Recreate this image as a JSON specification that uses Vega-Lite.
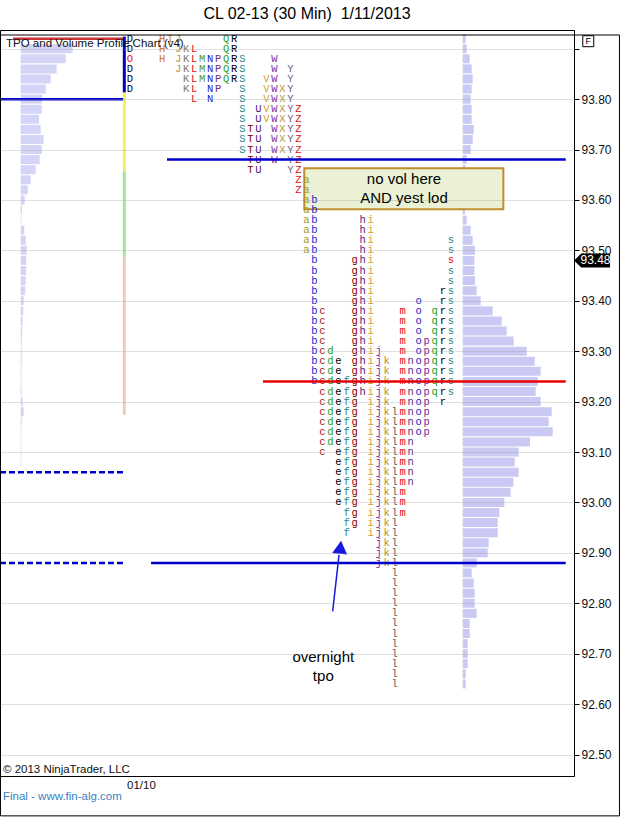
{
  "$schema": "https://vega.github.io/schema/vega-lite/v6.json",
  "width": 574,
  "height": 746,
  "autosize": "none",
  "padding": {"left": 0, "top": 30, "right": 46, "bottom": 46},
  "background": "#ffffff",
  "title": {"text": "CL 02-13 (30 Min)\u00a0 1/11/2013", "font": "Liberation Sans", "fontSize": 16, "fontWeight": "normal", "color": "#000000", "anchor": "middle", "frame": "group", "offset": 8, "dx": 20},
  "config": {"view": {"stroke": "#000000", "strokeWidth": 1}, "font": "Liberation Sans"},
  "resolve": {"scale": {"x": "independent", "color": "independent"}},
  "encoding": {
    "y": {"field": "p", "type": "quantitative", "scale": {"domain": [92.4673, 93.9272], "nice": false, "zero": false},
      "axis": {"orient": "right", "title": null, "values": [92.5, 92.6, 92.7, 92.8, 92.9, 93, 93.1, 93.2, 93.3, 93.4, 93.5, 93.6, 93.7, 93.8, 93.9],
        "format": ".2f", "labelExpr": "datum.value > 93.85 ? '' : datum.label", "domainColor": "#000000", "domainWidth": 1,
        "tickColor": "#000000", "tickSize": 5, "labelFont": "Liberation Sans", "labelFontSize": 12, "labelColor": "#111111",
        "labelPadding": 2, "grid": true, "gridColor": "#999999", "gridOpacity": 0.3, "gridWidth": 1, "zindex": 1}}
  },
  "datasets": {
    "periods": [
      {"t": "D", "u": 0}, {"t": "H", "u": 4}, {"t": "I", "u": 5}, {"t": "J", "u": 6}, {"t": "K", "u": 7},
      {"t": "L", "u": 8}, {"t": "M", "u": 9}, {"t": "N", "u": 10}, {"t": "P", "u": 11}, {"t": "Q", "u": 12},
      {"t": "R", "u": 13}, {"t": "S", "u": 14}, {"t": "T", "u": 15}, {"t": "U", "u": 16}, {"t": "V", "u": 17},
      {"t": "W", "u": 18}, {"t": "X", "u": 19}, {"t": "Y", "u": 20}, {"t": "Z", "u": 21}, {"t": "a", "u": 22},
      {"t": "b", "u": 23}, {"t": "c", "u": 24}, {"t": "d", "u": 25}, {"t": "e", "u": 26}, {"t": "f", "u": 27},
      {"t": "g", "u": 28}, {"t": "h", "u": 29}, {"t": "i", "u": 30}, {"t": "j", "u": 31}, {"t": "k", "u": 32},
      {"t": "l", "u": 33}, {"t": "m", "u": 34}, {"t": "n", "u": 35}, {"t": "o", "u": 36}, {"t": "p", "u": 37},
      {"t": "q", "u": 38}, {"t": "r", "u": 39}, {"t": "s", "u": 40}
    ],
    "tpo": [
      {"p": 93.92, "t": "D"}, {"p": 93.92, "t": "H"}, {"p": 93.92, "t": "I"}, {"p": 93.92, "t": "J"}, {"p": 93.92, "t": "Q"}, {"p": 93.92, "t": "R"},
      {"p": 93.90, "t": "D"}, {"p": 93.90, "t": "H"}, {"p": 93.90, "t": "J"}, {"p": 93.90, "t": "K"}, {"p": 93.90, "t": "L"}, {"p": 93.90, "t": "Q"}, {"p": 93.90, "t": "R"},
      {"p": 93.88, "t": "H"}, {"p": 93.88, "t": "J"}, {"p": 93.88, "t": "K"}, {"p": 93.88, "t": "L"}, {"p": 93.88, "t": "M"}, {"p": 93.88, "t": "N"}, {"p": 93.88, "t": "P"}, {"p": 93.88, "t": "Q"}, {"p": 93.88, "t": "R"}, {"p": 93.88, "t": "S"}, {"p": 93.88, "t": "W"},
      {"p": 93.86, "t": "D"}, {"p": 93.86, "t": "J"}, {"p": 93.86, "t": "K"}, {"p": 93.86, "t": "L"}, {"p": 93.86, "t": "M"}, {"p": 93.86, "t": "N"}, {"p": 93.86, "t": "P"}, {"p": 93.86, "t": "Q"}, {"p": 93.86, "t": "R"}, {"p": 93.86, "t": "S"}, {"p": 93.86, "t": "W"}, {"p": 93.86, "t": "Y"},
      {"p": 93.84, "t": "D"}, {"p": 93.84, "t": "K"}, {"p": 93.84, "t": "L"}, {"p": 93.84, "t": "M"}, {"p": 93.84, "t": "N"}, {"p": 93.84, "t": "P"}, {"p": 93.84, "t": "Q"}, {"p": 93.84, "t": "R"}, {"p": 93.84, "t": "S"}, {"p": 93.84, "t": "V"}, {"p": 93.84, "t": "W"}, {"p": 93.84, "t": "Y"},
      {"p": 93.82, "t": "D"}, {"p": 93.82, "t": "K"}, {"p": 93.82, "t": "L"}, {"p": 93.82, "t": "N"}, {"p": 93.82, "t": "P"}, {"p": 93.82, "t": "S"}, {"p": 93.82, "t": "V"}, {"p": 93.82, "t": "W"}, {"p": 93.82, "t": "X"}, {"p": 93.82, "t": "Y"},
      {"p": 93.80, "t": "L"}, {"p": 93.80, "t": "N"}, {"p": 93.80, "t": "S"}, {"p": 93.80, "t": "V"}, {"p": 93.80, "t": "W"}, {"p": 93.80, "t": "X"}, {"p": 93.80, "t": "Y"},
      {"p": 93.78, "t": "S"}, {"p": 93.78, "t": "U"}, {"p": 93.78, "t": "V"}, {"p": 93.78, "t": "W"}, {"p": 93.78, "t": "X"}, {"p": 93.78, "t": "Y"}, {"p": 93.78, "t": "Z"},
      {"p": 93.76, "t": "S"}, {"p": 93.76, "t": "U"}, {"p": 93.76, "t": "V"}, {"p": 93.76, "t": "W"}, {"p": 93.76, "t": "X"}, {"p": 93.76, "t": "Y"}, {"p": 93.76, "t": "Z"},
      {"p": 93.74, "t": "S"}, {"p": 93.74, "t": "T"}, {"p": 93.74, "t": "U"}, {"p": 93.74, "t": "W"}, {"p": 93.74, "t": "X"}, {"p": 93.74, "t": "Y"}, {"p": 93.74, "t": "Z"},
      {"p": 93.72, "t": "S"}, {"p": 93.72, "t": "T"}, {"p": 93.72, "t": "U"}, {"p": 93.72, "t": "W"}, {"p": 93.72, "t": "X"}, {"p": 93.72, "t": "Y"}, {"p": 93.72, "t": "Z"},
      {"p": 93.70, "t": "S"}, {"p": 93.70, "t": "T"}, {"p": 93.70, "t": "U"}, {"p": 93.70, "t": "W"}, {"p": 93.70, "t": "X"}, {"p": 93.70, "t": "Y"}, {"p": 93.70, "t": "Z"},
      {"p": 93.68, "t": "T"}, {"p": 93.68, "t": "U"}, {"p": 93.68, "t": "W"}, {"p": 93.68, "t": "Y"}, {"p": 93.68, "t": "Z"},
      {"p": 93.66, "t": "T"}, {"p": 93.66, "t": "U"}, {"p": 93.66, "t": "Y"}, {"p": 93.66, "t": "Z"},
      {"p": 93.64, "t": "Z"}, {"p": 93.64, "t": "a"},
      {"p": 93.62, "t": "Z"}, {"p": 93.62, "t": "a"},
      {"p": 93.60, "t": "a"}, {"p": 93.60, "t": "b"},
      {"p": 93.58, "t": "a"}, {"p": 93.58, "t": "b"},
      {"p": 93.56, "t": "a"}, {"p": 93.56, "t": "b"}, {"p": 93.56, "t": "h"}, {"p": 93.56, "t": "i"},
      {"p": 93.54, "t": "a"}, {"p": 93.54, "t": "b"}, {"p": 93.54, "t": "h"}, {"p": 93.54, "t": "i"},
      {"p": 93.52, "t": "a"}, {"p": 93.52, "t": "b"}, {"p": 93.52, "t": "h"}, {"p": 93.52, "t": "i"}, {"p": 93.52, "t": "s"},
      {"p": 93.50, "t": "a"}, {"p": 93.50, "t": "b"}, {"p": 93.50, "t": "h"}, {"p": 93.50, "t": "i"}, {"p": 93.50, "t": "s"},
      {"p": 93.48, "t": "b"}, {"p": 93.48, "t": "g"}, {"p": 93.48, "t": "h"}, {"p": 93.48, "t": "i"},
      {"p": 93.46, "t": "b"}, {"p": 93.46, "t": "g"}, {"p": 93.46, "t": "h"}, {"p": 93.46, "t": "i"}, {"p": 93.46, "t": "s"},
      {"p": 93.44, "t": "b"}, {"p": 93.44, "t": "g"}, {"p": 93.44, "t": "h"}, {"p": 93.44, "t": "i"}, {"p": 93.44, "t": "s"},
      {"p": 93.42, "t": "b"}, {"p": 93.42, "t": "g"}, {"p": 93.42, "t": "h"}, {"p": 93.42, "t": "i"}, {"p": 93.42, "t": "r"}, {"p": 93.42, "t": "s"},
      {"p": 93.40, "t": "b"}, {"p": 93.40, "t": "g"}, {"p": 93.40, "t": "h"}, {"p": 93.40, "t": "i"}, {"p": 93.40, "t": "o"}, {"p": 93.40, "t": "r"}, {"p": 93.40, "t": "s"},
      {"p": 93.38, "t": "b"}, {"p": 93.38, "t": "c"}, {"p": 93.38, "t": "g"}, {"p": 93.38, "t": "h"}, {"p": 93.38, "t": "i"}, {"p": 93.38, "t": "m"}, {"p": 93.38, "t": "o"}, {"p": 93.38, "t": "q"}, {"p": 93.38, "t": "r"}, {"p": 93.38, "t": "s"},
      {"p": 93.36, "t": "b"}, {"p": 93.36, "t": "c"}, {"p": 93.36, "t": "g"}, {"p": 93.36, "t": "h"}, {"p": 93.36, "t": "i"}, {"p": 93.36, "t": "m"}, {"p": 93.36, "t": "o"}, {"p": 93.36, "t": "q"}, {"p": 93.36, "t": "r"}, {"p": 93.36, "t": "s"},
      {"p": 93.34, "t": "b"}, {"p": 93.34, "t": "c"}, {"p": 93.34, "t": "g"}, {"p": 93.34, "t": "h"}, {"p": 93.34, "t": "i"}, {"p": 93.34, "t": "m"}, {"p": 93.34, "t": "o"}, {"p": 93.34, "t": "q"}, {"p": 93.34, "t": "r"}, {"p": 93.34, "t": "s"},
      {"p": 93.32, "t": "b"}, {"p": 93.32, "t": "c"}, {"p": 93.32, "t": "g"}, {"p": 93.32, "t": "h"}, {"p": 93.32, "t": "i"}, {"p": 93.32, "t": "m"}, {"p": 93.32, "t": "o"}, {"p": 93.32, "t": "p"}, {"p": 93.32, "t": "q"}, {"p": 93.32, "t": "r"}, {"p": 93.32, "t": "s"},
      {"p": 93.30, "t": "b"}, {"p": 93.30, "t": "c"}, {"p": 93.30, "t": "d"}, {"p": 93.30, "t": "g"}, {"p": 93.30, "t": "h"}, {"p": 93.30, "t": "i"}, {"p": 93.30, "t": "j"}, {"p": 93.30, "t": "m"}, {"p": 93.30, "t": "o"}, {"p": 93.30, "t": "p"}, {"p": 93.30, "t": "q"}, {"p": 93.30, "t": "r"}, {"p": 93.30, "t": "s"},
      {"p": 93.28, "t": "b"}, {"p": 93.28, "t": "c"}, {"p": 93.28, "t": "d"}, {"p": 93.28, "t": "e"}, {"p": 93.28, "t": "g"}, {"p": 93.28, "t": "h"}, {"p": 93.28, "t": "i"}, {"p": 93.28, "t": "j"}, {"p": 93.28, "t": "k"}, {"p": 93.28, "t": "m"}, {"p": 93.28, "t": "n"}, {"p": 93.28, "t": "o"}, {"p": 93.28, "t": "p"}, {"p": 93.28, "t": "q"}, {"p": 93.28, "t": "r"}, {"p": 93.28, "t": "s"},
      {"p": 93.26, "t": "b"}, {"p": 93.26, "t": "c"}, {"p": 93.26, "t": "d"}, {"p": 93.26, "t": "e"}, {"p": 93.26, "t": "g"}, {"p": 93.26, "t": "h"}, {"p": 93.26, "t": "i"}, {"p": 93.26, "t": "j"}, {"p": 93.26, "t": "k"}, {"p": 93.26, "t": "m"}, {"p": 93.26, "t": "n"}, {"p": 93.26, "t": "o"}, {"p": 93.26, "t": "p"}, {"p": 93.26, "t": "q"}, {"p": 93.26, "t": "r"}, {"p": 93.26, "t": "s"},
      {"p": 93.24, "t": "b"}, {"p": 93.24, "t": "c"}, {"p": 93.24, "t": "d"}, {"p": 93.24, "t": "e"}, {"p": 93.24, "t": "f"}, {"p": 93.24, "t": "g"}, {"p": 93.24, "t": "h"}, {"p": 93.24, "t": "i"}, {"p": 93.24, "t": "j"}, {"p": 93.24, "t": "k"}, {"p": 93.24, "t": "m"}, {"p": 93.24, "t": "n"}, {"p": 93.24, "t": "o"}, {"p": 93.24, "t": "p"}, {"p": 93.24, "t": "q"}, {"p": 93.24, "t": "r"}, {"p": 93.24, "t": "s"},
      {"p": 93.22, "t": "c"}, {"p": 93.22, "t": "d"}, {"p": 93.22, "t": "e"}, {"p": 93.22, "t": "f"}, {"p": 93.22, "t": "g"}, {"p": 93.22, "t": "h"}, {"p": 93.22, "t": "i"}, {"p": 93.22, "t": "j"}, {"p": 93.22, "t": "k"}, {"p": 93.22, "t": "m"}, {"p": 93.22, "t": "n"}, {"p": 93.22, "t": "o"}, {"p": 93.22, "t": "p"}, {"p": 93.22, "t": "q"}, {"p": 93.22, "t": "r"}, {"p": 93.22, "t": "s"},
      {"p": 93.20, "t": "c"}, {"p": 93.20, "t": "d"}, {"p": 93.20, "t": "e"}, {"p": 93.20, "t": "f"}, {"p": 93.20, "t": "g"}, {"p": 93.20, "t": "i"}, {"p": 93.20, "t": "j"}, {"p": 93.20, "t": "k"}, {"p": 93.20, "t": "m"}, {"p": 93.20, "t": "n"}, {"p": 93.20, "t": "o"}, {"p": 93.20, "t": "p"}, {"p": 93.20, "t": "r"},
      {"p": 93.18, "t": "c"}, {"p": 93.18, "t": "d"}, {"p": 93.18, "t": "e"}, {"p": 93.18, "t": "f"}, {"p": 93.18, "t": "g"}, {"p": 93.18, "t": "i"}, {"p": 93.18, "t": "j"}, {"p": 93.18, "t": "k"}, {"p": 93.18, "t": "l"}, {"p": 93.18, "t": "m"}, {"p": 93.18, "t": "n"}, {"p": 93.18, "t": "o"}, {"p": 93.18, "t": "p"},
      {"p": 93.16, "t": "c"}, {"p": 93.16, "t": "d"}, {"p": 93.16, "t": "e"}, {"p": 93.16, "t": "f"}, {"p": 93.16, "t": "g"}, {"p": 93.16, "t": "i"}, {"p": 93.16, "t": "j"}, {"p": 93.16, "t": "k"}, {"p": 93.16, "t": "l"}, {"p": 93.16, "t": "m"}, {"p": 93.16, "t": "n"}, {"p": 93.16, "t": "o"}, {"p": 93.16, "t": "p"},
      {"p": 93.14, "t": "c"}, {"p": 93.14, "t": "d"}, {"p": 93.14, "t": "e"}, {"p": 93.14, "t": "f"}, {"p": 93.14, "t": "g"}, {"p": 93.14, "t": "i"}, {"p": 93.14, "t": "j"}, {"p": 93.14, "t": "k"}, {"p": 93.14, "t": "l"}, {"p": 93.14, "t": "m"}, {"p": 93.14, "t": "n"}, {"p": 93.14, "t": "o"}, {"p": 93.14, "t": "p"},
      {"p": 93.12, "t": "c"}, {"p": 93.12, "t": "d"}, {"p": 93.12, "t": "e"}, {"p": 93.12, "t": "f"}, {"p": 93.12, "t": "g"}, {"p": 93.12, "t": "i"}, {"p": 93.12, "t": "j"}, {"p": 93.12, "t": "k"}, {"p": 93.12, "t": "l"}, {"p": 93.12, "t": "m"}, {"p": 93.12, "t": "n"},
      {"p": 93.10, "t": "c"}, {"p": 93.10, "t": "e"}, {"p": 93.10, "t": "f"}, {"p": 93.10, "t": "g"}, {"p": 93.10, "t": "i"}, {"p": 93.10, "t": "j"}, {"p": 93.10, "t": "k"}, {"p": 93.10, "t": "l"}, {"p": 93.10, "t": "m"}, {"p": 93.10, "t": "n"},
      {"p": 93.08, "t": "e"}, {"p": 93.08, "t": "f"}, {"p": 93.08, "t": "g"}, {"p": 93.08, "t": "i"}, {"p": 93.08, "t": "j"}, {"p": 93.08, "t": "k"}, {"p": 93.08, "t": "l"}, {"p": 93.08, "t": "m"}, {"p": 93.08, "t": "n"},
      {"p": 93.06, "t": "e"}, {"p": 93.06, "t": "f"}, {"p": 93.06, "t": "g"}, {"p": 93.06, "t": "i"}, {"p": 93.06, "t": "j"}, {"p": 93.06, "t": "k"}, {"p": 93.06, "t": "l"}, {"p": 93.06, "t": "m"}, {"p": 93.06, "t": "n"},
      {"p": 93.04, "t": "e"}, {"p": 93.04, "t": "f"}, {"p": 93.04, "t": "g"}, {"p": 93.04, "t": "i"}, {"p": 93.04, "t": "j"}, {"p": 93.04, "t": "k"}, {"p": 93.04, "t": "l"}, {"p": 93.04, "t": "m"}, {"p": 93.04, "t": "n"},
      {"p": 93.02, "t": "e"}, {"p": 93.02, "t": "f"}, {"p": 93.02, "t": "g"}, {"p": 93.02, "t": "i"}, {"p": 93.02, "t": "j"}, {"p": 93.02, "t": "k"}, {"p": 93.02, "t": "l"}, {"p": 93.02, "t": "m"},
      {"p": 93.00, "t": "e"}, {"p": 93.00, "t": "f"}, {"p": 93.00, "t": "g"}, {"p": 93.00, "t": "i"}, {"p": 93.00, "t": "j"}, {"p": 93.00, "t": "k"}, {"p": 93.00, "t": "l"}, {"p": 93.00, "t": "m"},
      {"p": 92.98, "t": "f"}, {"p": 92.98, "t": "g"}, {"p": 92.98, "t": "i"}, {"p": 92.98, "t": "j"}, {"p": 92.98, "t": "k"}, {"p": 92.98, "t": "l"}, {"p": 92.98, "t": "m"},
      {"p": 92.96, "t": "f"}, {"p": 92.96, "t": "g"}, {"p": 92.96, "t": "i"}, {"p": 92.96, "t": "j"}, {"p": 92.96, "t": "k"}, {"p": 92.96, "t": "l"},
      {"p": 92.94, "t": "f"}, {"p": 92.94, "t": "i"}, {"p": 92.94, "t": "j"}, {"p": 92.94, "t": "k"}, {"p": 92.94, "t": "l"},
      {"p": 92.92, "t": "j"}, {"p": 92.92, "t": "k"}, {"p": 92.92, "t": "l"},
      {"p": 92.90, "t": "j"}, {"p": 92.90, "t": "k"}, {"p": 92.90, "t": "l"},
      {"p": 92.88, "t": "j"}, {"p": 92.88, "t": "k"}, {"p": 92.88, "t": "l"},
      {"p": 92.86, "t": "l"}, {"p": 92.84, "t": "l"}, {"p": 92.82, "t": "l"}, {"p": 92.80, "t": "l"}, {"p": 92.78, "t": "l"}, {"p": 92.76, "t": "l"},
      {"p": 92.74, "t": "l"}, {"p": 92.72, "t": "l"}, {"p": 92.70, "t": "l"}, {"p": 92.68, "t": "l"}, {"p": 92.66, "t": "l"}, {"p": 92.64, "t": "l"}
    ]
  },
  "layer": [
    {
      "data": {"values": [
        {"u": -13.99, "k": "g"}, {"u": -7.28, "k": "g"}, {"u": -0.54, "k": "g"}, {"u": 6.22, "k": "g"}, {"u": 8.34, "k": "d"},
        {"u": 12.88, "k": "g"}, {"u": 21.86, "k": "g"}, {"u": 29.74, "k": "g"}, {"u": 36.45, "k": "g"}, {"u": 43.2, "k": "g"}, {"u": 49.86, "k": "g"}
      ]},
      "mark": {"type": "rule", "strokeWidth": 1},
      "encoding": {
        "x": {"field": "u", "type": "quantitative", "scale": {"domain": [-16.21, 55.36], "nice": false, "zero": false}, "axis": null},
        "y": {"datum": 93.9272},
        "y2": {"datum": 92.4673},
        "color": {"field": "k", "type": "nominal", "scale": {"domain": ["g", "d"], "range": ["#dcdcdc", "#a4a4a4"]}, "legend": null}
      }
    },
    {
      "data": {"values": [
        {"p": 93.90, "v": 520}, {"p": 93.88, "v": 450}, {"p": 93.86, "v": 360}, {"p": 93.84, "v": 300}, {"p": 93.82, "v": 250},
        {"p": 93.80, "v": 213}, {"p": 93.78, "v": 210}, {"p": 93.76, "v": 183}, {"p": 93.74, "v": 200}, {"p": 93.72, "v": 230},
        {"p": 93.70, "v": 210}, {"p": 93.68, "v": 190}, {"p": 93.66, "v": 150}, {"p": 93.64, "v": 100}, {"p": 93.62, "v": 70},
        {"p": 93.60, "v": 40}, {"p": 93.58, "v": 13}, {"p": 93.56, "v": 6}, {"p": 93.54, "v": 36}, {"p": 93.52, "v": 50},
        {"p": 93.50, "v": 60}, {"p": 93.48, "v": 55}, {"p": 93.46, "v": 55}, {"p": 93.44, "v": 50}, {"p": 93.42, "v": 45},
        {"p": 93.40, "v": 30}, {"p": 93.38, "v": 25}, {"p": 93.36, "v": 20}, {"p": 93.34, "v": 15}, {"p": 93.32, "v": 10},
        {"p": 93.30, "v": 10}, {"p": 93.28, "v": 10}, {"p": 93.26, "v": 8}, {"p": 93.24, "v": 8}, {"p": 93.22, "v": 10},
        {"p": 93.20, "v": 20}, {"p": 93.18, "v": 30}, {"p": 93.16, "v": 10}, {"p": 93.14, "v": 6}, {"p": 93.12, "v": 6},
        {"p": 93.10, "v": 6}, {"p": 93.08, "v": 5}
      ]},
      "mark": {"type": "bar", "orient": "horizontal", "size": 9, "color": "#d4d4f6"},
      "encoding": {
        "x": {"field": "v", "type": "quantitative", "scale": {"domain": [-207, 5533], "nice": false, "zero": false}, "axis": null},
        "x2": {"datum": 0}
      }
    },
    {
      "data": {"values": [
        {"p": 93.92, "v": 30}, {"p": 93.90, "v": 40}, {"p": 93.88, "v": 70}, {"p": 93.86, "v": 90}, {"p": 93.84, "v": 100},
        {"p": 93.82, "v": 90}, {"p": 93.80, "v": 80}, {"p": 93.78, "v": 90}, {"p": 93.76, "v": 90}, {"p": 93.74, "v": 110},
        {"p": 93.72, "v": 100}, {"p": 93.70, "v": 80}, {"p": 93.68, "v": 40}, {"p": 93.66, "v": 30}, {"p": 93.64, "v": 23},
        {"p": 93.62, "v": 20}, {"p": 93.60, "v": 20}, {"p": 93.58, "v": 23}, {"p": 93.56, "v": 40}, {"p": 93.54, "v": 80},
        {"p": 93.52, "v": 100}, {"p": 93.50, "v": 123}, {"p": 93.48, "v": 116}, {"p": 93.46, "v": 116}, {"p": 93.44, "v": 123},
        {"p": 93.42, "v": 140}, {"p": 93.40, "v": 180}, {"p": 93.38, "v": 300}, {"p": 93.36, "v": 390}, {"p": 93.34, "v": 440},
        {"p": 93.32, "v": 510}, {"p": 93.30, "v": 640}, {"p": 93.28, "v": 720}, {"p": 93.26, "v": 780}, {"p": 93.24, "v": 750},
        {"p": 93.22, "v": 730}, {"p": 93.20, "v": 780}, {"p": 93.18, "v": 890}, {"p": 93.16, "v": 860}, {"p": 93.14, "v": 900},
        {"p": 93.12, "v": 673}, {"p": 93.10, "v": 560}, {"p": 93.08, "v": 520}, {"p": 93.06, "v": 560}, {"p": 93.04, "v": 506},
        {"p": 93.02, "v": 480}, {"p": 93.00, "v": 416}, {"p": 92.98, "v": 366}, {"p": 92.96, "v": 350}, {"p": 92.94, "v": 350},
        {"p": 92.92, "v": 260}, {"p": 92.90, "v": 250}, {"p": 92.88, "v": 140}, {"p": 92.86, "v": 90}, {"p": 92.84, "v": 110},
        {"p": 92.82, "v": 120}, {"p": 92.80, "v": 120}, {"p": 92.78, "v": 140}, {"p": 92.76, "v": 70}, {"p": 92.74, "v": 70},
        {"p": 92.72, "v": 50}, {"p": 92.70, "v": 50}, {"p": 92.68, "v": 50}, {"p": 92.66, "v": 30}, {"p": 92.64, "v": 30}
      ]},
      "mark": {"type": "bar", "orient": "horizontal", "size": 9, "color": "#c9c9f3"},
      "encoding": {
        "x": {"field": "v", "type": "quantitative", "scale": {"domain": [-4627, 1113], "nice": false, "zero": false}, "axis": null},
        "x2": {"datum": 0}
      }
    },
    {
      "data": {"values": [{"u": 21.73, "u2": 46.55, "p": 93.663, "p2": 93.5814}]},
      "mark": {"type": "rect", "fill": "#eaf1d4", "stroke": "#bf8f2e", "strokeWidth": 2},
      "encoding": {
        "x": {"field": "u", "type": "quantitative", "scale": {"domain": [-16.21, 55.36], "nice": false, "zero": false}, "axis": null},
        "x2": {"field": "u2"},
        "y2": {"field": "p2"}
      }
    },
    {
      "data": {"values": [
        {"p": 93.924, "p2": 93.813, "k": "ib"}, {"p": 93.813, "p2": 93.657, "k": "hi"},
        {"p": 93.657, "p2": 93.487, "k": "mid"}, {"p": 93.487, "p2": 93.174, "k": "lo"}
      ]},
      "mark": {"type": "rule", "strokeWidth": 3},
      "encoding": {
        "x": {"datum": -0.71, "type": "quantitative", "scale": {"domain": [-16.21, 55.36], "nice": false, "zero": false}, "axis": null},
        "y2": {"field": "p2"},
        "color": {"field": "k", "type": "nominal", "scale": {"domain": ["ib", "hi", "mid", "lo"], "range": ["#0000c8", "#f0f060", "#a8e2a0", "#f2c8b8"]}, "legend": null}
      }
    },
    {
      "data": {"name": "tpo"},
      "transform": [{"lookup": "t", "from": {"data": {"name": "periods"}, "key": "t", "fields": ["u"]}}],
      "mark": {"type": "text", "font": "Liberation Mono", "fontSize": 10.5, "align": "center", "baseline": "middle"},
      "encoding": {
        "x": {"field": "u", "type": "quantitative", "scale": {"domain": [-16.21, 55.36], "nice": false, "zero": false}, "axis": null},
        "text": {"field": "t"},
        "color": {"field": "t", "type": "nominal", "legend": null, "scale": {
          "domain": ["D", "H", "I", "J", "K", "L", "M", "N", "P", "Q", "R", "S", "T", "U", "V", "W", "X", "Y", "Z", "a", "b", "c", "d", "e", "f", "g", "h", "i", "j", "k", "l", "m", "n", "o", "p", "q", "r", "s"],
          "range": ["#000000", "#d07818", "#d08818", "#b89048", "#8a7a58", "#e01010", "#5a9a30", "#2020c8", "#7a2a70", "#20a020", "#000000", "#2a8a8a", "#800000", "#501880", "#d0a030", "#8030a0", "#c09838", "#6a6080", "#e01010", "#a09818", "#2020c8", "#a01818", "#20a020", "#000000", "#2a8a8a", "#800000", "#501880", "#d0a030", "#7a30a0", "#b09030", "#606060", "#e01010", "#6a2a80", "#2020c8", "#7a2a90", "#20a020", "#000000", "#2a8a8a"]}}
      }
    },
    {
      "data": {"values": [{"p": 93.88, "t": "D", "s": "O"}, {"p": 93.48, "t": "s", "s": "s"}]},
      "transform": [{"lookup": "t", "from": {"data": {"name": "periods"}, "key": "t", "fields": ["u"]}}],
      "mark": {"type": "text", "font": "Liberation Mono", "fontSize": 10.5, "align": "center", "baseline": "middle", "color": "#e01010"},
      "encoding": {
        "x": {"field": "u", "type": "quantitative", "scale": {"domain": [-16.21, 55.36], "nice": false, "zero": false}, "axis": null},
        "text": {"field": "s"}
      }
    },
    {
      "data": {"values": [
        {"p": 93.92, "u": -14.59, "u2": -0.87, "k": "high"},
        {"p": 93.80, "u": -16.21, "u2": -0.87, "k": "blue"},
        {"p": 93.68, "u": 4.61, "u2": 54.33, "k": "blue"},
        {"p": 93.24, "u": 16.58, "u2": 54.33, "k": "red"},
        {"p": 92.88, "u": 2.62, "u2": 54.33, "k": "blue"}
      ]},
      "mark": {"type": "rule", "strokeWidth": 2.5},
      "encoding": {
        "x": {"field": "u", "type": "quantitative", "scale": {"domain": [-16.21, 55.36], "nice": false, "zero": false}, "axis": null},
        "x2": {"field": "u2"},
        "color": {"field": "k", "type": "nominal", "scale": {"domain": ["high", "blue", "red"], "range": ["#cc3030", "#0000cc", "#e80000"]}, "legend": null}
      }
    },
    {
      "data": {"values": [{"p": 93.06, "u": -16.21, "u2": -0.87}, {"p": 92.88, "u": -16.21, "u2": -0.87}]},
      "mark": {"type": "rule", "strokeWidth": 2.5, "strokeDash": [6, 3], "color": "#0000cc"},
      "encoding": {
        "x": {"field": "u", "type": "quantitative", "scale": {"domain": [-16.21, 55.36], "nice": false, "zero": false}, "axis": null},
        "x2": {"field": "u2"}
      }
    },
    {
      "data": {"values": [
        {"u": 34.16, "p": 93.6415, "s": "no vol here"}, {"u": 34.16, "p": 93.6043, "s": "AND yest lod"},
        {"u": 24.1, "p": 92.693, "s": "overnight"}, {"u": 24.1, "p": 92.655, "s": "tpo"}
      ]},
      "mark": {"type": "text", "font": "Liberation Sans", "fontSize": 15, "align": "center", "baseline": "middle", "color": "#000000"},
      "encoding": {
        "x": {"field": "u", "type": "quantitative", "scale": {"domain": [-16.21, 55.36], "nice": false, "zero": false}, "axis": null},
        "text": {"field": "s"}
      }
    },
    {
      "data": {"values": [{"u": 25.27, "p": 92.784, "u2": 26.06, "p2": 92.896}]},
      "mark": {"type": "rule", "strokeWidth": 1.5, "color": "#1818e0"},
      "encoding": {
        "x": {"field": "u", "type": "quantitative", "scale": {"domain": [-16.21, 55.36], "nice": false, "zero": false}, "axis": null},
        "x2": {"field": "u2"},
        "y2": {"field": "p2"}
      }
    },
    {
      "data": {"values": [{"u": 26.23, "p": 92.911}]},
      "mark": {"type": "point", "shape": "triangle-up", "size": 225, "angle": 6, "filled": true, "opacity": 1, "color": "#1818e0"},
      "encoding": {
        "x": {"field": "u", "type": "quantitative", "scale": {"domain": [-16.21, 55.36], "nice": false, "zero": false}, "axis": null}
      }
    },
    {
      "data": {"values": [
        {"u": -15.46, "p": 93.9096, "s": "TPO and Volume Profile Chart (v4)"},
        {"u": -15.84, "p": 92.469, "s": "© 2013 NinjaTrader, LLC"},
        {"u": -0.37, "p": 92.438, "s": "01/10"}
      ]},
      "mark": {"type": "text", "font": "Liberation Sans", "fontSize": 11.5, "align": "left", "baseline": "middle", "color": "#111111"},
      "encoding": {
        "x": {"field": "u", "type": "quantitative", "scale": {"domain": [-16.21, 55.36], "nice": false, "zero": false}, "axis": null},
        "text": {"field": "s"}
      }
    },
    {
      "data": {"values": [{"u": -15.84, "p": 92.4164, "s": "Final - www.fin-alg.com"}]},
      "mark": {"type": "text", "font": "Liberation Sans", "fontSize": 11.5, "align": "left", "baseline": "middle", "color": "#3a82c4"},
      "encoding": {
        "x": {"field": "u", "type": "quantitative", "scale": {"domain": [-16.21, 55.36], "nice": false, "zero": false}, "axis": null},
        "text": {"field": "s"}
      }
    },
    {
      "data": {"values": [{"p": 93.48, "s": "93.48"}]},
      "mark": {"type": "point", "shape": "M -1 0 L -0.6 -0.39 L 1 -0.39 L 1 0.39 L -0.6 0.39 Z", "size": 1296, "filled": true, "opacity": 1, "color": "#000000"},
      "encoding": {
        "x": {"datum": 57.61, "type": "quantitative", "scale": {"domain": [-16.21, 55.36], "nice": false, "zero": false}, "axis": null}
      }
    },
    {
      "data": {"values": [{"p": 93.48, "s": "93.48"}]},
      "mark": {"type": "text", "font": "Liberation Sans", "fontSize": 12, "align": "center", "baseline": "middle", "color": "#ffffff"},
      "encoding": {
        "x": {"datum": 58.04, "type": "quantitative", "scale": {"domain": [-16.21, 55.36], "nice": false, "zero": false}, "axis": null},
        "text": {"field": "s"}
      }
    },
    {
      "data": {"values": [{"u": 57.14, "p": 93.9149, "s": "F"}]},
      "mark": {"type": "point", "shape": "square", "size": 121, "filled": true, "opacity": 1, "fill": "#ffffff", "stroke": "#000000", "strokeWidth": 1},
      "encoding": {
        "x": {"field": "u", "type": "quantitative", "scale": {"domain": [-16.21, 55.36], "nice": false, "zero": false}, "axis": null}
      }
    },
    {
      "data": {"values": [{"u": 57.14, "p": 93.9149, "s": "F"}]},
      "mark": {"type": "text", "font": "Liberation Sans", "fontSize": 9, "align": "center", "baseline": "middle", "color": "#000000"},
      "encoding": {
        "x": {"field": "u", "type": "quantitative", "scale": {"domain": [-16.21, 55.36], "nice": false, "zero": false}, "axis": null},
        "text": {"field": "s"}
      }
    },
    {
      "data": {"values": [{"u": -16.15, "u2": 61.03, "p": 93.9272, "p2": 92.3783}]},
      "mark": {"type": "rect", "fillOpacity": 0, "stroke": "#000000", "strokeWidth": 1},
      "encoding": {
        "x": {"field": "u", "type": "quantitative", "scale": {"domain": [-16.21, 55.36], "nice": false, "zero": false}, "axis": null},
        "x2": {"field": "u2"},
        "y2": {"field": "p2"}
      }
    }
  ]
}
